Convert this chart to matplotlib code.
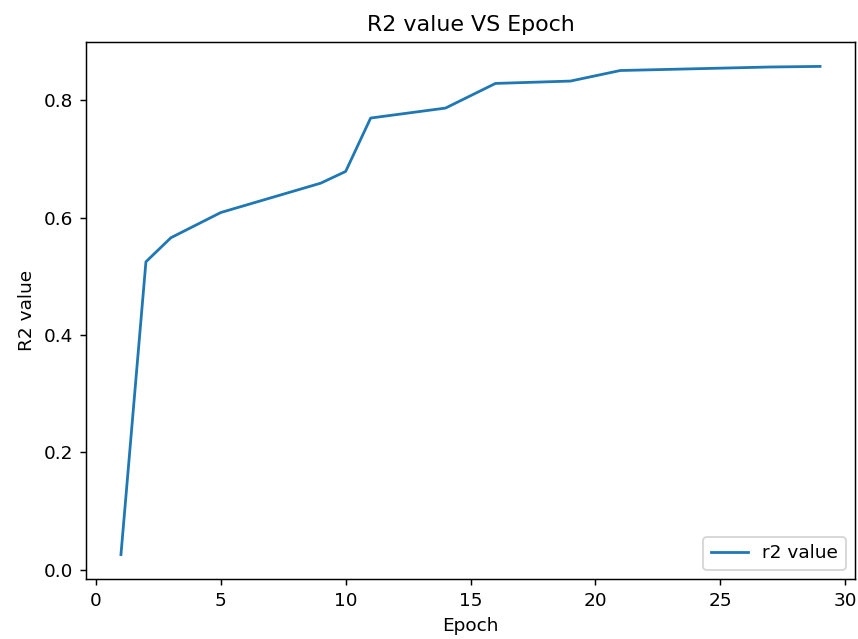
import matplotlib
matplotlib.use("Agg")
import matplotlib.pyplot as plt

epochs = [1, 2, 3, 5, 9, 10, 11, 14, 16, 19, 21, 27, 29]
r2_values = [0.026, 0.525, 0.566, 0.609, 0.659, 0.679, 0.770, 0.787,
             0.829, 0.833, 0.851, 0.857, 0.858]

DPI = 133
fig = plt.figure(figsize=(858 / DPI, 639 / DPI), dpi=DPI)
ax = fig.add_axes([86 / 858, 60 / 639, (855 - 86) / 858, (579 - 42) / 639])
ax.plot(epochs, r2_values, label="r2 value")
ax.set_title("R2 value VS Epoch")
ax.set_xlabel("Epoch")
ax.set_ylabel("R2 value")
ax.legend(loc="lower right")
fig.savefig("out.png", dpi=DPI)
